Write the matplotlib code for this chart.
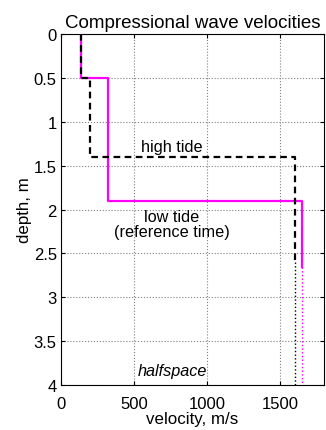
import numpy as np
import matplotlib.pyplot as plt

plt.rcParams['font.family'] = ['Liberation Sans', 'DejaVu Sans']

# layer tops/bottoms (m) and velocities (m/s)
low_depth = [0, 0.5, 1.9, 2.65]
low_vel = [140, 320, 1650]
high_depth = [0, 0.5, 1.4, 2.6]
high_vel = [140, 200, 1600]
max_depth = 4


def step_profile(depth, vel):
    # build a stair-step profile from layer boundaries
    d = np.repeat(depth, 2)[1:-1]
    v = np.repeat(vel, 2)
    return v, d


fig = plt.figure(figsize=(3.26, 4.31), dpi=100)
ax = fig.add_axes([0.187, 0.104, 0.807, 0.815])

v, d = step_profile(low_depth, low_vel)
ax.plot(v, d, color='magenta', lw=1.6, zorder=3)
ax.plot([low_vel[-1]] * 2, [low_depth[-1], max_depth], color='magenta', lw=1, ls=':', zorder=3)

v, d = step_profile(high_depth, high_vel)
ax.plot(v, d, color='black', lw=1.6, ls=(0, (3, 2)), zorder=4)
ax.plot([high_vel[-1]] * 2, [high_depth[-1], max_depth], color='black', lw=1, ls=':', zorder=4)

ax.text(760, 1.28, 'high tide', ha='center', va='center', fontsize=11.7)
ax.text(760, 2.16, 'low tide\n(reference time)', ha='center', va='center', fontsize=11.7, linespacing=1.0)
ax.text(760, 3.83, 'halfspace', ha='center', va='center', fontsize=11.7, style='italic')

ax.set_xlim(0, 1800)
ax.set_ylim(4, 0)
ax.set_xticks([0, 500, 1000, 1500])
ax.set_yticks([0, 0.5, 1, 1.5, 2, 2.5, 3, 3.5, 4])
ax.set_yticklabels(['0', '0.5', '1', '1.5', '2', '2.5', '3', '3.5', '4'])
ax.grid(True, ls=':', color='gray', lw=0.8)
ax.tick_params(direction='in', labelsize=12, top=True, right=True, length=3, pad=3)
ax.tick_params(axis='x', pad=8)
ax.set_xlabel('velocity, m/s', fontsize=12.2, labelpad=0)
ax.set_ylabel('depth, m', fontsize=12.2, labelpad=1)
ax.set_title('Compressional wave velocities', fontsize=13.5, pad=5)

fig.savefig('out.png', dpi=100)
